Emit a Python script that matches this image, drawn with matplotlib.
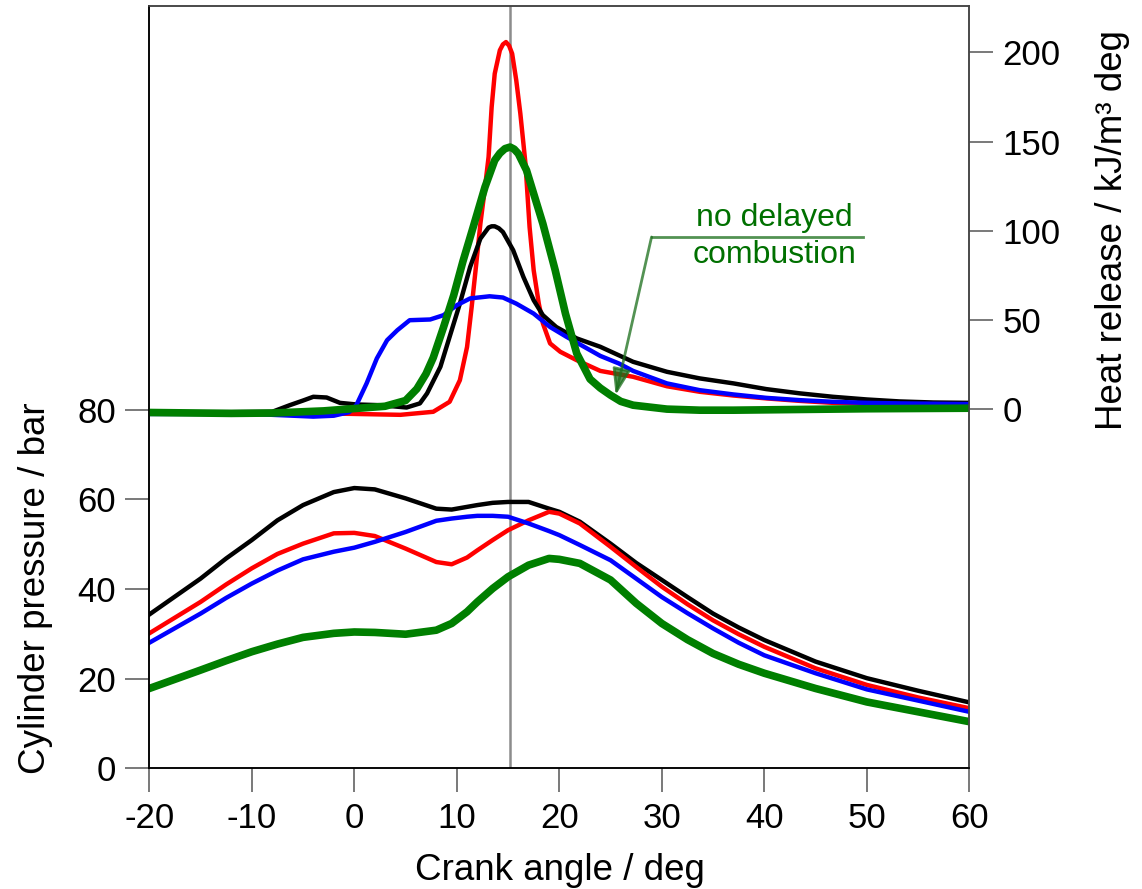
import matplotlib
matplotlib.use('Agg')
from matplotlib import pyplot as plt

plt.rcParams['font.family'] = ['Liberation Sans', 'DejaVu Sans']
plt.rcParams['axes.unicode_minus'] = False
plt.rcParams['lines.solid_joinstyle'] = 'round'

# cylinder pressure traces (bar) against crank angle (deg)
p_angle = [-20, -15, -12.5, -10, -7.5, -5, -2, 0, 2, 5, 8, 9.5, 11, 12, 13.5, 15, 17, 19, 20, 22, 25, 27.5,
           30, 32.5, 35, 37.5, 40, 45, 50, 55, 60]
p_black = [34.3, 42.3, 46.8, 50.9, 55.3, 58.7, 61.6, 62.5, 62.2, 60.2, 57.9, 57.7, 58.3, 58.7, 59.2, 59.4,
           59.4, 57.9, 57.2, 55.0, 50.1, 45.8, 42.0, 38.2, 34.5, 31.4, 28.6, 23.8, 20.1, 17.3, 14.7]
p_red = [30.1, 37.1, 41.0, 44.6, 47.8, 50.1, 52.4, 52.5, 51.8, 49.0, 46.0, 45.5, 47.0, 48.6, 50.9, 53.1,
         55.3, 57.2, 56.8, 54.6, 49.4, 44.9, 40.5, 36.6, 33.0, 29.9, 27.1, 22.3, 18.6, 15.8, 13.4]
p_blue = [28.0, 34.5, 38.0, 41.2, 44.1, 46.6, 48.3, 49.2, 50.5, 52.7, 55.2, 55.7, 56.1, 56.3, 56.3, 56.1,
          54.6, 52.9, 52.0, 49.8, 46.4, 42.3, 38.2, 34.6, 31.2, 28.0, 25.2, 21.2, 17.6, 15.1, 12.6]
p_green = [17.8, 21.9, 24.0, 26.0, 27.7, 29.2, 30.1, 30.4, 30.3, 29.9, 30.8, 32.3, 34.9, 37.1, 40.1, 42.7,
           45.3, 46.8, 46.6, 45.7, 42.0, 36.8, 32.3, 28.7, 25.6, 23.2, 21.2, 17.8, 14.8, 12.6, 10.4]

# heat release rates (kJ/m3 deg)
hr_black_angle = [-20, -12, -8, -6.3, -5, -4, -2.7, -1.4, 0.2, 2.5, 5.1, 6.4, 7.1, 8.4, 9.3, 10.3, 11.3, 12.3,
                  13.1, 13.4, 13.7, 14.1, 14.5, 15.5, 16.5, 17.5, 18.4, 19.7, 21.7, 24, 27.2, 30.5, 33.7, 37,
                  40.2, 43.5, 46.7, 50, 53.2, 56.5, 60]
hr_black = [-1.5, -1.5, -1.3, 2.4, 5.0, 7.1, 6.7, 3.7, 2.8, 2.4, 1.1, 3.4, 9.0, 23.9, 40.7, 59.3, 79.8, 95.7,
            101.9, 102.6, 102.6, 101.5, 99.4, 89.2, 74.2, 61.2, 52.8, 46.2, 39.8, 35.1, 26.7, 21.1, 17.4, 14.6,
            11.4, 9.0, 7.1, 5.6, 4.5, 3.9, 3.7]

hr_red_angle = [-20, -10, -5, 0, 4.5, 7.7, 9.3, 10.3, 11.0, 11.45, 11.9, 12.3, 12.7, 13.1, 13.4, 13.7, 14.2,
                14.5, 14.8, 15.1, 15.4, 15.8, 16.2, 16.7, 17.1, 17.5, 18.0, 18.4, 19.1, 20.1, 21.7, 24, 27.2,
                30.5, 33.7, 37, 40.2, 43.5, 46.7, 50, 60]
hr_red = [-2.0, -2.0, -2.0, -2.5, -3.0, -1.3, 4.3, 16.4, 35, 57.4, 81.7, 104, 122, 141.4, 169.4, 188.1, 201.2,
          204.5, 205.8, 203.8, 199.3, 184.4, 165.7, 137.7, 102.2, 78, 59.3, 48.2, 37, 32.3, 27.6, 21.6, 18.3,
          13, 9.9, 7.8, 6.2, 4.8, 3.7, 3.4, 3.0]

hr_blue_angle = [-20, -10, -6, -4, -2, -0.5, 0.2, 1.2, 2.2, 3.2, 4.2, 5.4, 7.4, 8.7, 10, 11.3, 13.2, 14.5,
                 15.8, 17.5, 19.1, 20.7, 22.7, 24, 25.8, 27.2, 30.5, 33.7, 37, 40.2, 43.5, 46.7, 50, 53.2, 60]
hr_blue = [-2.5, -2.5, -3.5, -4.0, -3.5, -1.5, 2.4, 14.6, 28.6, 38.8, 44.4, 50, 50.4, 52.8, 58.4, 62.2, 63.4,
           62.7, 59.3, 53.7, 46.2, 40.7, 34.2, 30, 25.8, 21.6, 14.6, 10.8, 8.4, 6.5, 5.2, 4.3, 3.7, 3.4, 3.0]

hr_green_angle = [-20, -12, -8, -3, 0, 3, 5, 6.1, 7.0, 7.7, 8.7, 9.7, 10.6, 11.6, 12.75, 13.7, 14.2, 14.7,
                  15.2, 15.6, 16.0, 16.8, 17.6, 18.4, 19.6, 20.6, 21.7, 23, 24, 25, 26, 27.2, 30.5, 33.7, 37,
                  43.5, 50, 60]
hr_green = [-1.7, -2.2, -2.0, -0.8, 0.5, 1.8, 5.0, 11.5, 20, 29, 46, 64, 83, 102.2, 124.6, 139.6, 143.5,
            146.1, 147, 145.8, 143.3, 134, 119, 104, 78, 53.7, 31.4, 17, 12, 8, 4.5, 2.4, 0.2, -0.4, -0.4,
            0, 0.4, 0.7]

ref_angle = 15.2
x_ticks = [-20, -10, 0, 10, 20, 30, 40, 50, 60]
p_ticks = [0, 20, 40, 60, 80]
hr_ticks = [0, 50, 100, 150, 200]

fig = plt.figure(figsize=(11.42, 8.89), dpi=100)
ax = fig.add_axes([149.3 / 1142, 1 - 768.3 / 889, 820 / 1142, 762.3 / 889])
ax2 = ax.twinx()

ax.plot(p_angle, p_black, color='k', lw=3.2)
ax.plot(p_angle, p_red, color='#ff0000', lw=3.2)
ax.plot(p_angle, p_blue, color='#0000ff', lw=3.2)
ax.plot(p_angle, p_green, color='#007f00', lw=5.5)
ax.axvline(ref_angle, color='#8c8c8c', lw=1.8, zorder=0.5)

ax2.plot(hr_red_angle, hr_red, color='#ff0000', lw=3.2)
ax2.plot(hr_black_angle, hr_black, color='k', lw=3.2)
ax2.plot(hr_blue_angle, hr_blue, color='#0000ff', lw=3.2)
ax2.plot(hr_green_angle, hr_green, color='#007f00', lw=5.5)

ax.set_xlim(-20, 60)
ax.set_ylim(0, 170)
ax2.set_ylim(-201, 226)
ax.set_xticks(x_ticks)
ax.set_yticks(p_ticks)
ax2.set_yticks(hr_ticks)

for a in (ax, ax2):
    a.tick_params(direction='out', length=17, width=1.1, color='#555555', labelsize=25, pad=7)
    for side in ('top', 'right'):
        a.spines[side].set_color('#444444')
        a.spines[side].set_linewidth(1.1)
    for side in ('left', 'bottom'):
        a.spines[side].set_color('k')
        a.spines[side].set_linewidth(1.1)

# leader line for the annotation
lead_color = '#1a6e1a'
ax2.plot([29.0, 49.6], [96.6, 96.6], color=lead_color, lw=2, alpha=0.75)
ax2.annotate('', xy=(25.5, 8.0), xytext=(29.0, 96.6),
             arrowprops=dict(arrowstyle='-|>,head_length=1.6,head_width=0.55', color=lead_color,
                             lw=2, alpha=0.75, shrinkA=0, shrinkB=0))
ax2.text(41.0, 102.8, 'no delayed', ha='center', va='baseline', fontsize=23, color='#007000')
ax2.text(41.0, 82.1, 'combustion', ha='center', va='baseline', fontsize=23, color='#007000')

fig.text(36 / 1142, 1 - 588 / 889, 'Cylinder pressure / bar', rotation=90, ha='center', va='center',
         fontsize=26.5)
fig.text(1113 / 1142, 1 - 230 / 889, 'Heat release / kJ/m³ deg', rotation=90, ha='center', va='center',
         fontsize=26.5)
fig.text(560 / 1142, 1 - 880 / 889, 'Crank angle / deg', ha='center', va='baseline', fontsize=26.5)

fig.savefig('out.png', dpi=100)
